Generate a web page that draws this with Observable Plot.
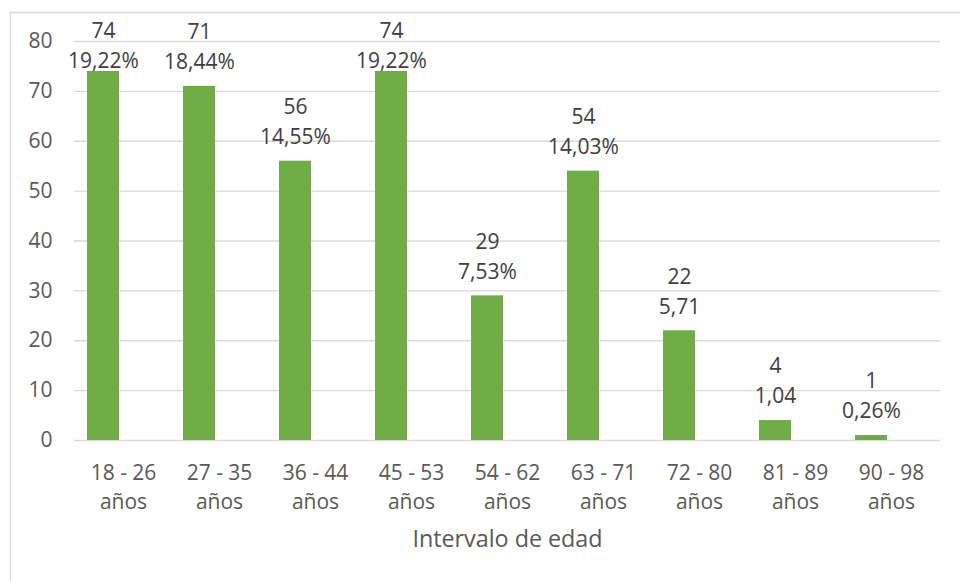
<!DOCTYPE html>
<html>
<head>
<meta charset="utf-8">
<script src="https://cdn.jsdelivr.net/npm/d3@7"></script>
<script src="https://cdn.jsdelivr.net/npm/@observablehq/plot@0.6"></script>
<style>
  html, body { margin: 0; padding: 0; background: #fff; }
  svg { display: block; }
</style>
</head>
<body>
<div id="chart"></div>
<script>
const categories = ["18 - 26", "27 - 35", "36 - 44", "45 - 53", "54 - 62", "63 - 71", "72 - 80", "81 - 89", "90 - 98"];
const counts = [74, 71, 56, 74, 29, 54, 22, 4, 1];
const percentLabels = ["19,22%", "18,44%", "14,55%", "19,22%", "7,53%", "14,03%", "5,71", "1,04", "0,26%"];
const yTicks = [0, 10, 20, 30, 40, 50, 60, 70, 80];
const xTitle = "Intervalo de edad";

const data = categories.map((c, i) => ({ cat: c, n: counts[i], pct: percentLabels[i] }));

const font = "'Open Sans', 'Noto Sans', sans-serif";
const green = "#70AD47";

const W = 960, H = 581, mT = 41, mB = 141;
const yMax = 80;
const pxPerUnit = (H - mT - mB) / yMax;
// label offsets (pixels above bar top), clamped so labels stay inside the plot area
const pctGap = 24, lineGap = 30, topLimit = 20; // px
const pctY = d => Math.min(d.n + pctGap / pxPerUnit, yMax - topLimit / pxPerUnit);

const chart = Plot.plot({
  width: W,
  height: H,
  marginLeft: 74,
  marginRight: 20,
  marginTop: mT,
  marginBottom: mB,
  style: { fontFamily: font, background: "#fff" },
  x: { domain: categories, padding: 0 },
  y: { domain: [0, yMax] },
  marks: [
    Plot.gridY(yTicks, { stroke: "#d9d9d9", strokeOpacity: 1, strokeWidth: 1.4 }),
    Plot.barY(data, { x: "cat", y: "n", fill: green, insetLeft: 12, insetRight: 52 }),
    Plot.text(data, { x: "cat", y: pctY, text: "pct", dx: -20, lineAnchor: "middle", fontSize: 21, fill: "#404040" }),
    Plot.text(data, { x: "cat", y: pctY, text: d => String(d.n), dx: -20, dy: -lineGap, lineAnchor: "middle", fontSize: 21, fill: "#404040" }),
    Plot.axisY(yTicks, { tickSize: 0, tickPadding: 22, fontSize: 21, fill: "#595959", label: null }),
    Plot.axisX({ tickSize: 0, tickPadding: 19, fontSize: 21, fill: "#595959", label: null, lineHeight: 1.38, tickFormat: d => d + "\naños" }),
    Plot.text([xTitle], { frameAnchor: "bottom", dy: 99, lineAnchor: "middle", fontSize: 23.3, fill: "#595959" })
  ]
});

d3.select(chart).append("path")
  .attr("d", "M10.5,581V12.5H960")
  .attr("fill", "none")
  .attr("stroke", "#d9d9d9")
  .attr("stroke-width", 1.3);

document.getElementById("chart").appendChild(chart);
</script>
</body>
</html>
